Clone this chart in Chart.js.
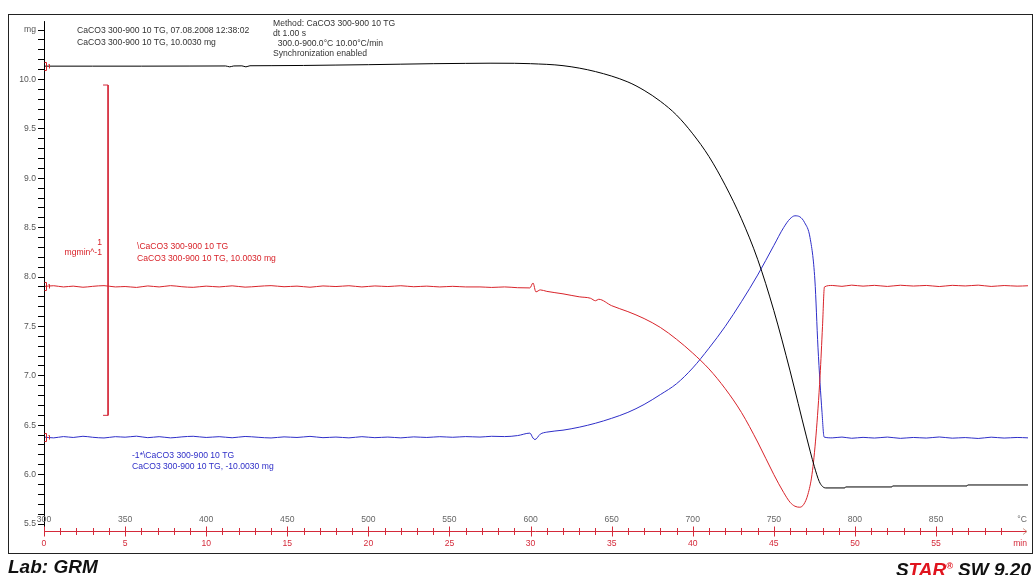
<!DOCTYPE html>
<html>
<head>
<meta charset="utf-8">
<script src="https://cdn.jsdelivr.net/npm/chart.js@4.4.0/dist/chart.umd.min.js"></script>
<style>
body { margin: 0; background: #fff; }
#wrap { position: relative; width: 1036px; height: 575px; overflow: hidden; font-family: "Liberation Sans", Arial, sans-serif; }
#chart { position: absolute; left: 0; top: 0; }
.frame { position: absolute; left: 8px; top: 14px; width: 1025px; height: 540px; box-sizing: border-box; border: 1.5px solid #222; pointer-events: none; }
.t { position: absolute; font-size: 8.6px; line-height: 10px; white-space: pre; color: #333; }
.red { color: #d8232a; }
.blue { color: #2e2ec8; }
.foot { position: absolute; top: 557px; font-size: 19px; line-height: 19px; font-weight: bold; font-style: italic; color: #111; white-space: pre; }
.foot .r { color: #e0141e; }
.foot sup { font-size: 9px; vertical-align: 7px; color: #e0141e; }
</style>
</head>
<body>
<div id="wrap">
  <canvas id="chart" width="1036" height="575"></canvas>
  <div class="frame"></div>

  <div class="t" style="left:77px; top:24.5px;">CaCO3 300-900 10 TG, 07.08.2008 12:38:02</div>
  <div class="t" style="left:77px; top:36.5px;">CaCO3 300-900 10 TG, 10.0030 mg</div>

  <div class="t" style="left:273px; top:17.5px;">Method: CaCO3 300-900 10 TG
dt 1.00 s
  300.0-900.0°C 10.00°C/min
Synchronization enabled</div>

  <div class="t red" style="left:52px; width:50px; text-align:right; top:237px;">1</div>
  <div class="t red" style="left:52px; width:50px; text-align:right; top:247px;">mgmin^-1</div>

  <div class="t red" style="left:137px; top:241px;">\CaCO3 300-900 10 TG</div>
  <div class="t red" style="left:137px; top:253px;">CaCO3 300-900 10 TG, 10.0030 mg</div>

  <div class="t blue" style="left:132px; top:450px;">-1*\CaCO3 300-900 10 TG</div>
  <div class="t blue" style="left:132px; top:460.5px;">CaCO3 300-900 10 TG, -10.0030 mg</div>

  <div class="foot" style="left:8px;">Lab: GRM</div>
  <div class="foot" style="right:5px;"><span style="color:#111">S</span><span class="r">TAR</span><sup>®</sup> SW 9.20</div>
</div>

<script>
// Axis ranges
const tempMin = 300;
const tempMax = 906.7;
const timeMax = 60.67;

// Tick labels
const yTickValues = [5.5, 6.0, 6.5, 7.0, 7.5, 8.0, 8.5, 9.0, 9.5, 10.0, 10.5];
const yTickLabels = ['5.5', '6.0', '6.5', '7.0', '7.5', '8.0', '8.5', '9.0', '9.5', '10.0', 'mg'];
const tempTicks = [300, 350, 400, 450, 500, 550, 600, 650, 700, 750, 800, 850, 900];
const tempLabels = ['300', '350', '400', '450', '500', '550', '600', '650', '700', '750', '800', '850', '°C'];
const timeTicks = [0, 5, 10, 15, 20, 25, 30, 35, 40, 45, 50, 55, 60];
const timeLabels = ['0', '5', '10', '15', '20', '25', '30', '35', '40', '45', '50', '55', 'min'];

// TG curve (black), mg
const tgTemp = [300, 330, 360, 390, 412, 414.5, 417, 422, 424.5, 427, 440, 460, 480, 500, 520, 540, 560, 575, 590, 600, 620, 640, 660, 670, 680, 690,
  700, 710, 720, 730, 740, 750, 760, 765, 770, 775, 778, 780, 782, 793.8, 794.2, 822.8, 823.2, 869.1, 869.5, 906.7];
const tgMass = [10.135, 10.135, 10.135, 10.136, 10.137, 10.128, 10.137, 10.138, 10.128, 10.139, 10.14, 10.142, 10.146, 10.15, 10.155, 10.16, 10.163, 10.165, 10.164, 10.16, 10.14, 10.08, 9.975, 9.89, 9.78, 9.64,
  9.45, 9.22, 8.93, 8.59, 8.18, 7.66, 7.05, 6.72, 6.39, 6.08, 5.93, 5.88, 5.865, 5.865, 5.875, 5.875, 5.885, 5.885, 5.895, 5.895];

// DTG curve (red)
const dtgTemp = [300, 306, 312, 318, 324, 330, 337, 344, 350, 357, 364, 371, 378, 385, 392, 400, 408, 416, 424, 432, 440, 448, 456, 464,
  472, 480, 488, 496, 504, 512, 520, 528, 536, 544, 552, 560, 568.8, 576, 584, 592, 599.6, 601.5, 603.3, 606, 610, 620, 630, 637,
  640, 642, 650, 660, 670, 680, 690, 700, 710, 720, 730, 740, 750, 756, 760, 763, 766, 768.5, 771, 773.5, 776, 778.5, 780, 781.2,
  786, 792, 798, 805, 812, 820, 828, 836, 844, 852, 860, 868, 876, 884, 892, 900, 906.7];
const dtgValue = [7.905, 7.912, 7.9, 7.908, 7.897, 7.906, 7.913, 7.9, 7.904, 7.895, 7.91, 7.9, 7.913, 7.902, 7.896, 7.908, 7.9, 7.911, 7.898, 7.906, 7.913, 7.902, 7.908, 7.897,
  7.91, 7.904, 7.912, 7.9, 7.91, 7.904, 7.912, 7.902, 7.908, 7.9, 7.906, 7.9, 7.9, 7.895, 7.9, 7.892, 7.89, 7.94, 7.85, 7.87, 7.855, 7.83, 7.8, 7.785,
  7.76, 7.775, 7.71, 7.65, 7.58, 7.49, 7.37, 7.23, 7.07, 6.87, 6.63, 6.33, 6.0, 5.82, 5.72, 5.68, 5.67, 5.70, 5.80, 6.0, 6.40, 7.0, 7.5, 7.9,
  7.915, 7.906, 7.918, 7.908, 7.916, 7.905, 7.917, 7.909, 7.915, 7.904, 7.916, 7.91, 7.918, 7.905, 7.914, 7.908, 7.912];

// -1 * DTG curve (blue)
const negTemp = [300, 306, 312, 318, 324, 330, 337, 344, 350, 357, 364, 371, 378, 385, 392, 400, 408, 416, 424, 432, 440, 448, 456, 464,
  472, 480, 488, 496, 504, 512, 520, 528, 536, 544, 552, 560, 568.8, 576, 584, 592, 599.6, 601.5, 602.7, 606, 610, 620, 630, 640,
  650, 660, 670, 680, 690, 700, 710, 720, 730, 740, 750, 756, 760, 763, 766, 769, 772.3, 775.3, 777.2, 779.7, 781,
  786, 792, 798, 805, 812, 820, 828, 836, 844, 852, 860, 868, 876, 884, 892, 900, 906.7];
const negValue = [6.38, 6.372, 6.385, 6.376, 6.388, 6.378, 6.371, 6.384, 6.379, 6.389, 6.374, 6.384, 6.372, 6.382, 6.388, 6.376, 6.384, 6.373, 6.386, 6.378, 6.371, 6.382, 6.376, 6.387,
  6.374, 6.38, 6.372, 6.384, 6.374, 6.38, 6.372, 6.382, 6.376, 6.384, 6.378, 6.385, 6.38, 6.388, 6.385, 6.395, 6.42, 6.37, 6.355, 6.41, 6.43, 6.45, 6.48, 6.52,
  6.57, 6.63, 6.71, 6.81, 6.92, 7.08, 7.28, 7.50, 7.75, 8.02, 8.32, 8.50, 8.59, 8.62, 8.61, 8.55, 8.40, 7.97, 7.29, 6.63, 6.38,
  6.372, 6.38, 6.368, 6.377, 6.37, 6.38, 6.367, 6.376, 6.37, 6.381, 6.369, 6.375, 6.366, 6.379, 6.37, 6.376, 6.372];

// DTG scale bar (1 mg/min expressed in mg-axis units)
const barTemp = [336.4, 339.5, 339.5, 336.4];
const barValue = [9.944, 9.944, 6.60, 6.60];

const RED = '#d8232a';
const BLUE = '#2e2ec8';
const AXIS_RED = '#d42a3a';

function pts(xs, ys) {
  return xs.map((x, i) => ({ x: x, y: ys[i] }));
}

Chart.defaults.font.family = '"Liberation Sans", Arial, sans-serif';

// Time/temperature axis below the plot and curve start markers
const bottomAxes = {
  id: 'bottomAxes',
  afterDraw(chart) {
    const ctx = chart.ctx;
    const a = chart.chartArea;
    const x = chart.scales.x;
    const t = chart.scales.t;
    const y = chart.scales.y;
    const axisY = a.bottom + 7.5;
    ctx.save();

    // y axis continues a little above and below the plot
    ctx.strokeStyle = '#000';
    ctx.lineWidth = 1;
    ctx.beginPath();
    ctx.moveTo(a.left + 0.5, a.top - 9);
    ctx.lineTo(a.left + 0.5, axisY);
    ctx.stroke();

    // red time axis
    ctx.strokeStyle = AXIS_RED;
    ctx.beginPath();
    ctx.moveTo(a.left, axisY);
    ctx.lineTo(a.right - 1, axisY);
    ctx.stroke();
    ctx.strokeStyle = '#c98';
    ctx.beginPath();
    ctx.moveTo(a.right - 5, axisY - 3);
    ctx.lineTo(a.right - 1, axisY);
    ctx.lineTo(a.right - 5, axisY + 3);
    ctx.stroke();

    ctx.strokeStyle = AXIS_RED;
    for (let m = 0; m <= 59; m++) {
      const px = Math.round(t.getPixelForValue(m)) + 0.5;
      const h = m % 5 === 0 ? 5 : 3.5;
      ctx.beginPath();
      ctx.moveTo(px, axisY - h);
      ctx.lineTo(px, axisY + h);
      ctx.stroke();
    }

    ctx.font = '8.6px "Liberation Sans", Arial, sans-serif';
    ctx.textAlign = 'center';
    ctx.textBaseline = 'middle';
    ctx.fillStyle = '#666';
    tempTicks.forEach((v, i) => {
      const dx = i === tempTicks.length - 1 ? 5 : 0;
      ctx.fillText(tempLabels[i], x.getPixelForValue(v) + dx, a.bottom - 4);
    });
    ctx.fillStyle = AXIS_RED;
    timeTicks.forEach((v, i) => {
      const dx = i === timeTicks.length - 1 ? 3 : 0;
      ctx.fillText(timeLabels[i], t.getPixelForValue(v) + dx, axisY + 12);
    });

    // red start markers on each curve
    ctx.strokeStyle = RED;
    [[tgTemp, tgMass], [dtgTemp, dtgValue], [negTemp, negValue]].forEach(c => {
      const px = Math.round(x.getPixelForValue(c[0][0])) + 1.5;
      const py = Math.round(y.getPixelForValue(c[1][0])) + 0.5;
      ctx.beginPath();
      ctx.moveTo(px - 1, py - 4);
      ctx.lineTo(px + 1, py - 4);
      ctx.lineTo(px + 1, py + 4);
      ctx.lineTo(px - 1, py + 4);
      ctx.moveTo(px + 3, py - 2);
      ctx.lineTo(px + 4, py - 2);
      ctx.lineTo(px + 4, py + 2);
      ctx.stroke();
    });
    ctx.restore();
  }
};

const yMinorTicks = [];
for (let i = 55; i <= 105; i++) yMinorTicks.push(i / 10);

new Chart(document.getElementById('chart'), {
  type: 'scatter',
  data: {
    datasets: [
      { label: 'TG', data: pts(tgTemp, tgMass), borderColor: '#000', borderWidth: 1, showLine: true, pointRadius: 0, cubicInterpolationMode: 'monotone' },
      { label: 'DTG', data: pts(dtgTemp, dtgValue), borderColor: RED, borderWidth: 1, showLine: true, pointRadius: 0, cubicInterpolationMode: 'monotone' },
      { label: '-DTG', data: pts(negTemp, negValue), borderColor: BLUE, borderWidth: 1, showLine: true, pointRadius: 0, cubicInterpolationMode: 'monotone' },
      { label: 'scale', data: pts(barTemp, barValue), borderColor: AXIS_RED, borderWidth: 1, showLine: true, pointRadius: 0 }
    ]
  },
  options: {
    responsive: false,
    animation: false,
    layout: { padding: { left: 8, right: 8, top: 30.1, bottom: 51 } },
    plugins: { legend: { display: false }, tooltip: { enabled: false } },
    scales: {
      x: { type: 'linear', min: tempMin, max: tempMax, display: false },
      t: { type: 'linear', axis: 'x', position: 'bottom', min: 0, max: timeMax, display: false },
      y: {
        type: 'linear',
        min: 5.5,
        max: 10.5,
        afterFit(s) { s.width = 36; },
        afterBuildTicks(s) { s.ticks = yMinorTicks.map(v => ({ value: v })); },
        ticks: {
          autoSkip: false,
          padding: 2,
          color: '#555',
          font: { size: 8.6 },
          callback(v) {
            const i = yTickValues.findIndex(tv => Math.abs(tv - v) < 1e-6);
            return i >= 0 ? yTickLabels[i] : '';
          }
        },
        grid: { drawOnChartArea: false, tickLength: 6, tickColor: '#000' },
        border: { color: '#000' }
      }
    }
  },
  plugins: [bottomAxes]
});
</script>
</body>
</html>
